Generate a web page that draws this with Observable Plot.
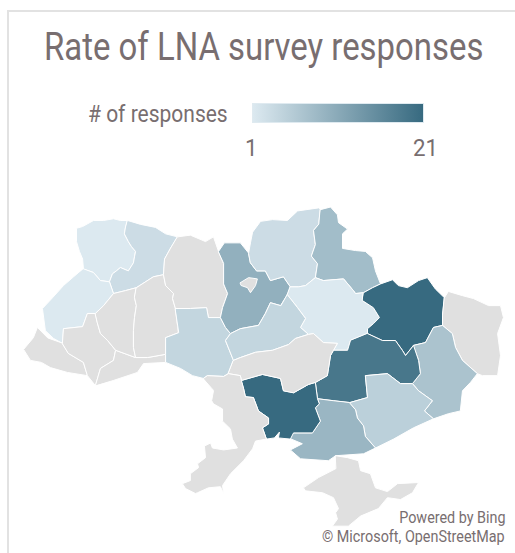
<!DOCTYPE html>
<html>
<head>
<meta charset="utf-8">
<script src="https://cdn.jsdelivr.net/npm/d3@7"></script>
<script src="https://cdn.jsdelivr.net/npm/@observablehq/plot@0.6"></script>
<style>
  html, body { margin: 0; padding: 0; background: #fff; }
  #page { position: relative; width: 515px; height: 553px; overflow: hidden; font-family: Roboto, sans-serif; color: #786e70; }
  #frameTop { position: absolute; left: 7px; top: 10px; right: 0; height: 2px; background: #e2e2e2; }
  #frameLeft { position: absolute; left: 7px; top: 10px; bottom: 0; width: 2px; background: #e2e2e2; }
  .narrow { position: absolute; white-space: nowrap; transform: scaleX(0.866); transform-origin: left top; }
  .right { transform: scaleX(0.897); transform-origin: right top; }
  .tick { transform: scaleX(0.93); }
  #chart { position: absolute; left: 0; top: 0; }
  #ramp { position: absolute; left: 252px; top: 103px; width: 172px; height: 20px; border: 0.5px solid #dfeaf0; box-sizing: border-box; }
</style>
</head>
<body>
<div id="page">
  <div id="chart"></div>
  <div id="frameTop"></div>
  <div id="frameLeft"></div>
  <div id="title" class="narrow" style="left:44px;top:24px;font-size:38px;line-height:46px"></div>
  <div id="legendLabel" class="narrow" style="left:88px;top:100px;font-size:24px;line-height:29px;transform:scaleX(0.875)"></div>
  <div id="ramp"></div>
  <div id="low" class="narrow tick" style="left:245px;top:134px;font-size:24px;line-height:29px"></div>
  <div id="high" class="narrow tick" style="left:413px;top:134px;font-size:24px;line-height:29px"></div>
  <div id="credit1" class="narrow right" style="right:10px;top:509px;font-size:16px;line-height:18px"></div>
  <div id="credit2" class="narrow right" style="right:10px;top:528px;font-size:16px;line-height:18px"></div>
</div>
<script>
const titleText = "Rate of LNA survey responses";
const legendTitle = "# of responses";
const legendTicks = [1, 21];
const creditLines = ["Powered by Bing", "© Microsoft, OpenStreetMap"];
const rampColors = ["#dce9f0", "#376a80"];
const noDataColor = "#e0e0e0";

// Borders between regions as [longitude, latitude] runs; each one is shared by the regions on either side.
const volynNorth = [[24.44,50.95],[24.41,51.18],[24.29,51.36],[24.18,51.59],[24.18,51.90],[24.41,51.94],[24.82,52.08],[25.20,52.08],[25.57,52.12],[25.83,52.08],[26.10,52.08]];
const volynRivne = [[26.10,52.08],[26.02,51.92],[25.98,51.77],[26.13,51.59],[26.25,51.47],[26.40,51.36],[26.36,51.23],[26.32,51.09],[26.13,50.90],[25.83,50.98],[25.68,50.90],[25.53,50.83],[25.42,50.64]];
const volynLviv = [[25.42,50.64],[25.08,50.67],[24.82,50.86],[24.44,50.95]];
const rivneNorth = [[26.10,52.08],[26.59,51.99],[27.15,51.92],[27.53,51.77],[27.98,51.70]];
const rivneZhytomyr = [[27.98,51.70],[27.71,51.43],[27.49,51.18],[27.45,50.81]];
const rivneKhmelnytskyi = [[27.45,50.81],[27.07,50.76],[26.43,50.50]];
const rivneTernopil = [[26.43,50.50],[26.02,50.43],[25.57,50.36]];
const rivneLviv = [[25.57,50.36],[25.42,50.64]];
const lvivWest = [[24.44,50.95],[24.07,50.76],[23.69,50.55],[23.28,50.26],[22.90,50.00],[23.01,49.46],[23.32,49.27],[23.65,49.15]];
const lvivFrankivsk = [[23.65,49.15],[23.69,49.51],[24.41,49.56],[24.59,49.88],[24.89,49.88]];
const lvivTernopil = [[24.89,49.88],[25.20,50.07],[25.57,50.36]];
const zakarpattiaFrankivsk = [[23.65,49.15],[23.88,48.90],[24.44,48.68],[24.59,48.35]];
const zakarpattiaOuter = [[24.59,48.35],[23.84,48.43],[23.20,48.55],[22.86,48.68],[22.45,48.73],[22.19,49.00],[22.56,49.29],[22.71,49.54],[23.09,49.29],[23.65,49.15]];
const frankivskTernopil = [[24.89,49.88],[24.96,49.66],[25.08,49.39],[25.35,49.22],[25.65,48.98]];
const frankivskChernivtsi = [[25.65,48.98],[25.57,48.73],[25.08,48.53],[24.89,48.10]];
const frankivskSouth = [[24.89,48.10],[24.59,48.35]];
const chernivtsiSouth = [[24.89,48.10],[25.57,48.23],[26.47,48.43],[26.70,48.65],[27.53,48.68]];
const chernivtsiVinnytsia = [[27.53,48.68],[27.53,48.88]];
const chernivtsiKhmelnytskyi = [[27.53,48.88],[26.85,48.80],[26.40,48.80]];
const chernivtsiTernopil = [[26.40,48.80],[25.65,48.98]];
const ternopilKhmelnytskyi = [[26.43,50.50],[26.36,50.26],[26.43,50.07],[26.36,49.78],[26.32,49.46],[26.32,49.05],[26.40,48.80]];
const khmelnytskyiZhytomyr = [[27.45,50.81],[27.53,50.55],[27.83,50.36],[27.79,50.24],[27.90,50.00]];
const khmelnytskyiVinnytsia = [[27.90,50.00],[28.01,49.41],[27.53,49.29],[27.53,48.88]];
const zhytomyrNorth = [[27.98,51.70],[28.46,51.74],[29.03,51.59],[29.33,51.70],[29.52,51.36]];
const zhytomyrKyiv = [[29.52,51.36],[29.71,51.07],[29.71,50.59],[29.86,50.36],[29.67,50.02],[29.59,49.78]];
const zhytomyrVinnytsia = [[29.59,49.78],[29.14,49.78],[29.07,50.02],[28.46,50.00],[27.90,50.00]];
const vinnytsiaKyiv = [[29.59,49.78],[29.78,49.54],[29.97,49.39]];
const vinnytsiaCherkasy = [[29.97,49.39],[29.78,49.22],[30.08,48.73]];
const vinnytsiaKirovohrad = [[30.08,48.73],[29.89,48.40]];
const vinnytsiaOdesa = [[29.89,48.40],[29.71,48.33],[29.10,48.35],[28.95,48.28]];
const vinnytsiaSouth = [[28.95,48.28],[28.54,48.35],[28.09,48.53],[27.53,48.68]];
const kyivNorth = [[29.52,51.36],[29.74,51.56],[30.34,51.56],[30.65,51.32]];
const kyivChernihiv = [[30.65,51.32],[30.72,51.09],[30.95,50.90],[31.28,50.90],[31.47,50.67],[31.96,50.76],[32.22,50.52]];
const kyivPoltava = [[32.22,50.52],[32.11,50.33]];
const kyivCherkasy = [[32.11,50.33],[31.85,50.07],[31.47,50.14],[31.28,49.88],[31.02,49.59],[30.34,49.51],[29.97,49.39]];
const chernihivNorth = [[30.65,51.32],[30.72,51.56],[30.80,51.81],[31.10,52.06],[31.55,52.10],[32.11,52.08],[32.49,52.30],[33.28,52.37],[33.35,52.33]];
const chernihivSumy = [[33.35,52.33],[33.28,51.99],[33.09,51.85],[33.16,51.52],[33.01,51.25],[33.24,51.07],[33.16,50.74]];
const chernihivPoltava = [[33.16,50.74],[32.79,50.55],[32.52,50.52],[32.22,50.52]];
const sumyNorth = [[33.35,52.33],[33.73,52.39],[33.99,52.21],[34.03,52.03],[34.37,51.88],[34.18,51.77],[34.18,51.43],[34.67,51.38],[35.04,51.36],[35.31,51.21],[35.42,50.90],[35.61,50.59]];
const sumyKharkiv = [[35.61,50.59],[35.31,50.50],[34.97,50.38]];
const sumyPoltava = [[34.97,50.38],[34.67,50.36],[34.59,50.43],[34.22,50.71],[33.46,50.67],[33.16,50.74]];
const poltavaKharkiv = [[34.97,50.38],[34.93,50.19],[35.34,50.02],[35.57,49.78],[35.34,49.63],[35.12,49.51],[35.12,49.39]];
const poltavaDnipro = [[35.12,49.39],[34.48,49.22],[34.37,48.98],[33.84,48.98]];
const poltavaKirovohrad = [[33.84,48.98],[33.99,49.15],[33.46,49.17],[33.09,49.39],[32.90,49.37]];
const poltavaCherkasy = [[32.90,49.37],[32.60,49.54],[32.79,49.76],[32.49,50.02],[32.11,50.33]];
const cherkasyKirovohrad = [[30.08,48.73],[30.34,48.80],[30.91,48.93],[31.55,48.98],[32.15,49.12],[32.41,49.27],[32.90,49.37]];
const kharkivEast = [[35.61,50.59],[36.06,50.69],[36.28,50.55],[36.62,50.50],[37.04,50.67],[37.37,50.74],[37.67,50.47],[38.01,50.26]];
const kharkivLuhansk = [[38.01,50.26],[37.94,49.83],[37.94,49.59]];
const kharkivDonetsk = [[37.94,49.59],[37.60,49.54],[37.30,49.17],[36.85,49.10]];
const kharkivDnipro = [[36.85,49.10],[36.55,48.85],[36.43,48.98],[36.17,49.22],[35.68,49.22],[35.12,49.39]];
const luhanskOuter = [[38.01,50.26],[38.16,50.41],[38.69,50.31],[39.10,50.24],[39.67,50.07],[40.12,50.07],[40.23,49.78],[40.01,49.39],[40.12,48.85],[40.01,48.35],[39.44,48.35],[39.25,48.40]];
const luhanskDonetsk = [[39.25,48.40],[38.69,48.73],[38.43,49.05],[38.31,49.39],[37.94,49.59]];
const donetskCoast = [[39.25,48.40],[38.99,48.18],[38.69,47.97],[38.61,47.46],[38.16,47.39],[37.60,47.26]];
const donetskZaporizhzhia = [[37.60,47.26],[37.26,47.46],[37.56,47.72],[37.04,47.97],[36.81,48.15]];
const donetskDnipro = [[36.81,48.15],[37.11,48.40],[37.04,48.73],[36.85,49.10]];
const dniproZaporizhzhia = [[36.81,48.15],[36.36,48.15],[35.87,48.40],[35.04,48.35],[35.12,47.80],[34.44,47.67]];
const dniproKherson = [[34.44,47.67],[33.84,47.72],[33.24,47.77]];
const dniproMykolaiv = [[33.24,47.77],[33.16,48.18]];
const dniproKirovohrad = [[33.16,48.18],[33.61,48.35],[33.73,48.85],[33.84,48.98]];
const zaporizhzhiaCoast = [[37.60,47.26],[36.85,47.03],[36.10,46.74],[35.42,46.51]];
const zaporizhzhiaKherson = [[35.42,46.51],[35.04,46.81],[34.97,47.08],[34.74,47.28],[34.67,47.49],[34.44,47.67]];
const khersonMykolaiv = [[33.24,47.77],[33.31,47.64],[33.16,47.54],[33.35,47.20],[33.05,46.90],[32.34,46.90]];
const khersonCoast = [[32.34,46.90],[32.15,46.77],[32.67,46.62],[32.22,46.46],[32.60,46.23],[33.65,46.18],[33.92,46.31],[34.97,46.36],[35.42,46.51]];
const mykolaivKirovohrad = [[30.38,48.23],[31.17,48.38],[31.85,48.28],[31.96,47.97],[32.34,47.92],[32.90,48.13],[33.16,48.18]];
const mykolaivCoast = [[32.34,46.90],[32.22,46.74],[31.77,46.77],[31.81,46.92],[31.62,46.77],[31.32,46.74]];
const mykolaivOdesa = [[31.32,46.74],[31.17,47.03],[31.40,47.13],[31.40,47.28],[31.02,47.46],[30.83,47.80],[30.53,47.82],[30.46,48.03],[30.38,48.23]];
const kirovohradOdesa = [[30.38,48.23],[30.34,48.35],[29.89,48.40]];
const odesaCoast = [[31.32,46.74],[30.91,46.69],[30.80,46.49],[30.46,46.18],[29.97,45.84],[29.67,45.53],[29.71,45.32],[29.59,45.50],[29.14,45.47],[28.73,45.34],[28.65,45.32],[28.28,45.45],[28.16,45.58],[28.46,45.66],[28.46,45.84],[28.77,46.00],[28.73,46.10],[29.03,46.26],[28.99,46.56],[29.22,46.64],[29.29,46.51],[29.71,46.46],[30.23,46.51],[30.04,46.74],[29.97,47.00],[29.67,47.20],[29.67,47.51],[29.33,47.64],[29.26,47.72],[29.33,47.97],[28.95,48.28]];
const kyivCity = [[30.34,50.62],[30.65,50.74],[30.98,50.71],[30.91,50.55],[30.72,50.38],[30.61,50.50],[30.38,50.55],[30.34,50.62]];
const crimea = [[33.92,46.31],[34.37,46.26],[34.78,46.18],[34.86,45.92],[35.23,45.84],[35.42,45.47],[35.87,45.37],[36.25,45.58],[37.04,45.61],[36.81,45.34],[36.36,45.16],[35.87,45.21],[35.53,44.92],[34.86,44.72],[34.40,44.45],[33.80,44.45],[33.99,44.64],[33.92,44.81],[34.03,44.92],[33.84,45.21],[33.43,45.34],[32.79,45.39],[32.71,45.47],[33.28,45.74],[33.92,45.97],[33.92,46.31]];

const back = (run) => [...run].reverse();

// Stitch border runs into one closed ring; each run starts where the previous one ended.
const ring = (...runs) => runs.flatMap((run, i) => (i ? run.slice(1) : run));

const regions = ["Volyn", "Rivne", "Lviv", "Zakarpattia", "Ivano-Frankivsk", "Chernivtsi", "Ternopil", "Khmelnytskyi", "Zhytomyr", "Vinnytsia", "Kyiv", "Kyiv City", "Chernihiv", "Sumy", "Poltava", "Cherkasy", "Kharkiv", "Luhansk", "Donetsk", "Dnipropetrovsk", "Zaporizhzhia", "Kherson", "Mykolaiv", "Kirovohrad", "Odesa", "Crimea"];
const responses = [1, 3, 1, null, null, null, null, null, null, 4, 10, null, 3, 8, 1, 4, 21, null, 7, 19, 5, 9, 21, null, null, null];
const outlines = [
  ring(volynNorth, volynRivne, volynLviv),
  ring(rivneNorth, rivneZhytomyr, rivneKhmelnytskyi, rivneTernopil, rivneLviv, back(volynRivne)),
  ring(lvivWest, lvivFrankivsk, lvivTernopil, rivneLviv, volynLviv),
  ring(zakarpattiaFrankivsk, zakarpattiaOuter),
  ring(lvivFrankivsk, frankivskTernopil, frankivskChernivtsi, frankivskSouth, back(zakarpattiaFrankivsk)),
  ring(chernivtsiSouth, chernivtsiVinnytsia, chernivtsiKhmelnytskyi, chernivtsiTernopil, frankivskChernivtsi),
  ring(lvivTernopil, back(rivneTernopil), ternopilKhmelnytskyi, chernivtsiTernopil, back(frankivskTernopil)),
  ring(back(rivneKhmelnytskyi), khmelnytskyiZhytomyr, khmelnytskyiVinnytsia, chernivtsiKhmelnytskyi, back(ternopilKhmelnytskyi)),
  ring(zhytomyrNorth, zhytomyrKyiv, zhytomyrVinnytsia, back(khmelnytskyiZhytomyr), back(rivneZhytomyr)),
  ring(back(zhytomyrVinnytsia), vinnytsiaKyiv, vinnytsiaCherkasy, vinnytsiaKirovohrad, vinnytsiaOdesa, vinnytsiaSouth, chernivtsiVinnytsia, back(khmelnytskyiVinnytsia)),
  ring(kyivNorth, kyivChernihiv, kyivPoltava, kyivCherkasy, back(vinnytsiaKyiv), back(zhytomyrKyiv)),
  kyivCity,
  ring(chernihivNorth, chernihivSumy, chernihivPoltava, back(kyivChernihiv)),
  ring(sumyNorth, sumyKharkiv, sumyPoltava, back(chernihivSumy)),
  ring(back(chernihivPoltava), back(sumyPoltava), poltavaKharkiv, poltavaDnipro, poltavaKirovohrad, poltavaCherkasy, back(kyivPoltava)),
  ring(kyivCherkasy, vinnytsiaCherkasy, cherkasyKirovohrad, poltavaCherkasy),
  ring(back(sumyKharkiv), kharkivEast, kharkivLuhansk, kharkivDonetsk, kharkivDnipro, back(poltavaKharkiv)),
  ring(luhanskOuter, luhanskDonetsk, back(kharkivLuhansk)),
  ring(back(kharkivDonetsk), back(luhanskDonetsk), donetskCoast, donetskZaporizhzhia, donetskDnipro),
  ring(back(kharkivDnipro), back(donetskDnipro), dniproZaporizhzhia, dniproKherson, dniproMykolaiv, dniproKirovohrad, back(poltavaDnipro)),
  ring(back(dniproZaporizhzhia), back(donetskZaporizhzhia), zaporizhzhiaCoast, zaporizhzhiaKherson),
  ring(dniproKherson, khersonMykolaiv, khersonCoast, zaporizhzhiaKherson),
  ring(mykolaivKirovohrad, back(dniproMykolaiv), khersonMykolaiv, mykolaivCoast, mykolaivOdesa),
  ring(cherkasyKirovohrad, back(poltavaKirovohrad), back(dniproKirovohrad), back(mykolaivKirovohrad), kirovohradOdesa, back(vinnytsiaKirovohrad)),
  ring(back(vinnytsiaOdesa), back(kirovohradOdesa), back(mykolaivOdesa), odesaCoast),
  crimea
];

// d3 treats a ring as spherical, so wind each one to enclose the small side of the globe.
const features = regions.map((name, i) => {
  const feature = { type: "Feature", properties: { name, responses: responses[i] }, geometry: { type: "Polygon", coordinates: [outlines[i]] } };
  if (d3.geoArea(feature) > 2 * Math.PI) feature.geometry.coordinates = [back(outlines[i])];
  return feature;
});

const pixelsPerDegree = 26.6;
const projection = d3.geoMercator()
  .scale(pixelsPerDegree * 180 / Math.PI)
  .translate([22 - 22.15 * pixelsPerDegree, 205 + 61.78 * pixelsPerDegree]);

const chart = Plot.plot({
  width: 515,
  height: 553,
  margin: 0,
  projection,
  color: { type: "linear", domain: legendTicks, range: rampColors, unknown: noDataColor },
  marks: [
    Plot.geo(features, { fill: (d) => d.properties.responses, stroke: "white", strokeWidth: 1 })
  ]
});
document.getElementById("chart").append(chart);

document.getElementById("title").textContent = titleText;
document.getElementById("legendLabel").textContent = legendTitle;
document.getElementById("low").textContent = legendTicks[0];
document.getElementById("high").textContent = legendTicks[1];
document.getElementById("credit1").textContent = creditLines[0];
document.getElementById("credit2").textContent = creditLines[1];
document.getElementById("ramp").style.background = `linear-gradient(to right, ${rampColors[0]}, ${rampColors[1]})`;
</script>
</body>
</html>
